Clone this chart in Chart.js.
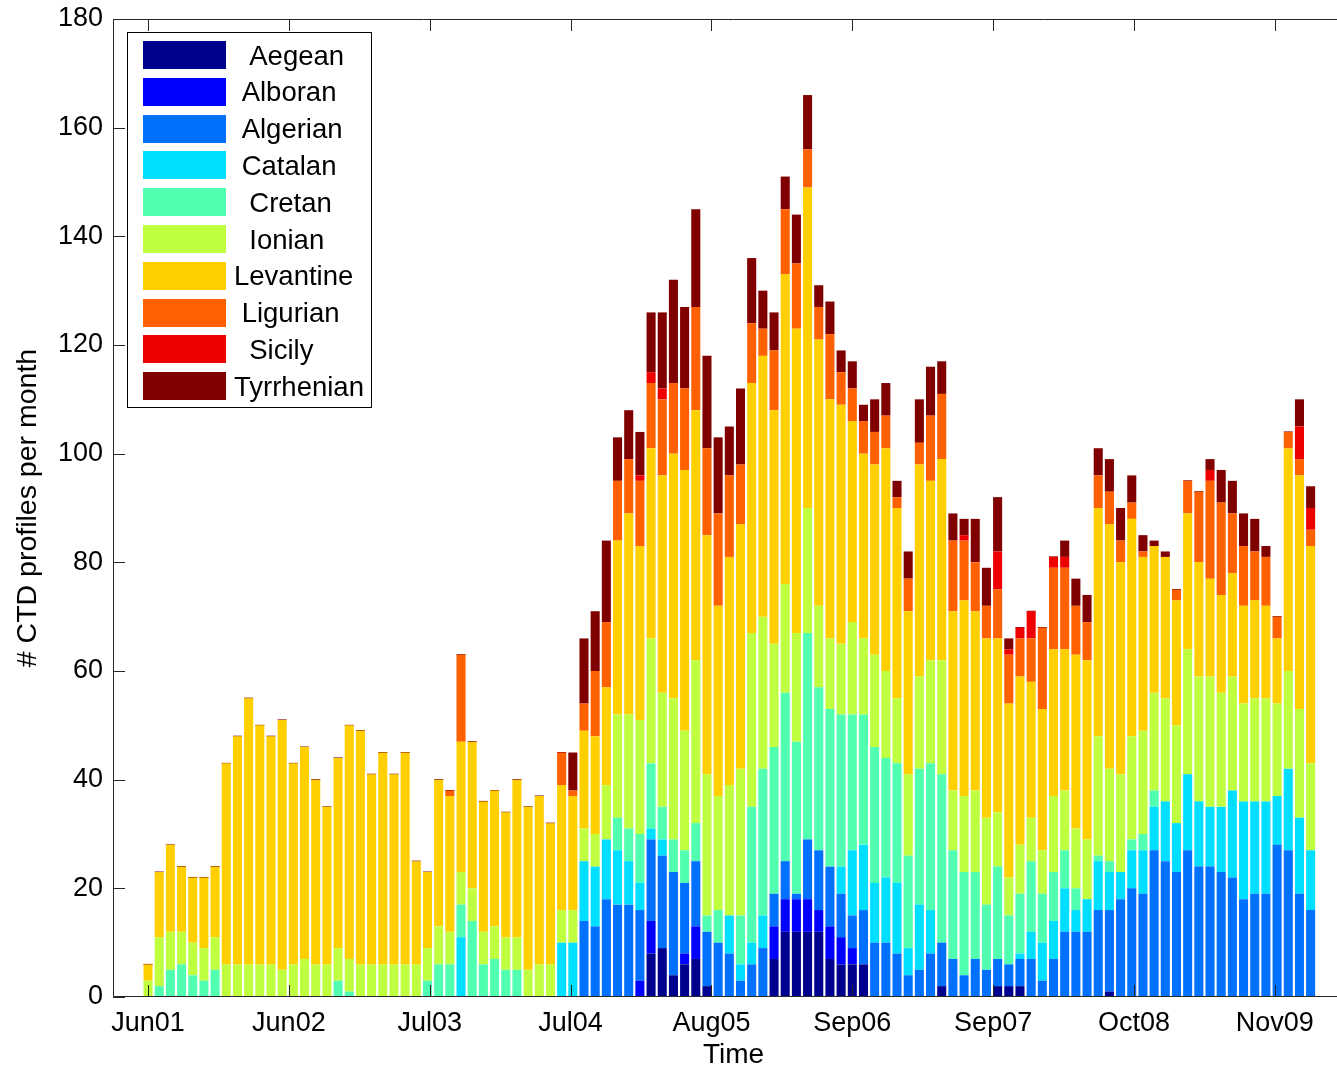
<!DOCTYPE html>
<html>
<head>
<meta charset="utf-8">
<script src="https://cdn.jsdelivr.net/npm/chart.js@4.4.1/dist/chart.umd.min.js"></script>
<style>
  html, body { margin: 0; padding: 0; background: #fff; overflow: hidden; }
  #wrap { width: 1337px; height: 1069px; overflow: hidden; }
</style>
</head>
<body>
<div id="wrap"><canvas id="chart" width="1356" height="1069"></canvas></div>
<script>
// regions, bottom to top of every stack
const regions = ['Aegean', 'Alboran', 'Algerian', 'Catalan', 'Cretan', 'Ionian', 'Levantine', 'Ligurian', 'Sicily', 'Tyrrhenian'];
const legendLabels = ['  Aegean', ' Alboran', ' Algerian', ' Catalan', '  Cretan', '  Ionian', 'Levantine', ' Ligurian', '  Sicily', 'Tyrrhenian'];
// jet(64) sampled every 7th entry
const regionColors = ['#00008F', '#0000FF', '#0070FF', '#00DFFF', '#50FFAF', '#BFFF40', '#FFCF00', '#FF6000', '#EF0000', '#800000'];

// monthly CTD profile counts, Jun 2001 .. Feb 2010 (105 months)
const aegean = [
  0,0,0,0,0,0,0,0,0,0,  0,0,0,0,0,0,0,0,0,0,  0,0,0,0,0,0,0,0,0,0,  0,0,0,0,0,0,0,0,0,0,
  0,0,0,0,0,8,9,4,6,7,  2,0,0,0,0,0,7,12,12,12,  12,7,6,6,6,0,0,0,0,0,  0,2,0,0,0,0,2,2,2,0,
  0,0,0,0,0,0,1,0,0,0,  0,0,0,0,0,0,0,0,0,0,  0,0,0,0,0];
const alboran = [
  0,0,0,0,0,0,0,0,0,0,  0,0,0,0,0,0,0,0,0,0,  0,0,0,0,0,0,0,0,0,0,  0,0,0,0,0,0,0,0,0,0,
  0,0,0,0,3,6,0,0,2,6,  0,0,0,0,0,0,6,6,6,6,  4,6,5,3,0,0,0,0,0,0,  0,0,0,0,0,0,0,0,0,0,
  0,0,0,0,0,0,0,0,0,0,  0,0,0,0,0,0,0,0,0,0,  0,0,0,0,0];
const algerian = [
  0,0,0,0,0,0,0,0,0,0,  0,0,0,0,0,0,0,0,0,0,  0,0,0,0,0,0,0,0,0,0,  0,0,0,0,0,0,0,0,0,14,
  13,18,17,17,13,15,17,19,13,12,  10,10,8,3,6,9,6,7,1,11,  11,11,8,6,10,10,10,8,4,5,  8,8,7,4,7,5,5,4,5,7,
  3,7,12,12,12,16,15,18,20,19,  27,25,23,27,24,24,23,22,18,19,  19,28,27,19,16];
const catalan = [
  0,0,0,0,0,0,0,0,0,0,  0,0,0,0,0,0,0,0,0,0,  0,0,0,0,0,0,0,0,11,0,  0,0,0,0,0,0,0,10,10,11,
  11,11,10,8,5,2,3,0,0,0,  0,0,7,3,4,6,0,0,0,0,  0,0,5,12,12,11,12,13,5,12,  8,0,0,0,0,0,0,0,1,5,
  7,7,8,4,6,9,7,5,7,8,  8,11,9,14,12,11,12,16,18,17,  17,9,15,14,11];
const cretan = [
  0,2,5,6,4,3,5,0,0,0,  0,0,0,0,0,0,0,3,1,0,  0,0,0,0,0,3,6,6,6,14,  6,7,5,5,0,0,0,0,0,0,
  0,0,6,6,9,12,6,6,6,7,  3,6,0,9,25,27,27,31,28,38,  30,29,28,25,24,25,22,22,17,25,  27,31,20,19,16,12,17,9,11,13,
  9,9,7,4,0,1,2,0,2,3,  3,0,0,0,0,0,0,0,0,0,  0,0,0,0,0];
const ionian = [
  3,9,7,6,6,6,6,6,6,6,  6,6,5,6,7,6,6,6,6,6,  6,6,6,6,6,6,7,6,6,6,  6,6,6,6,5,6,6,6,6,6,
  6,10,19,21,21,23,21,26,22,30,  26,21,24,27,32,28,19,20,20,23,  15,13,13,17,14,17,16,12,15,17,  19,21,11,14,15,16,10,7,9,8,
  8,14,11,11,11,22,17,18,19,19,  18,19,18,23,23,24,21,21,18,19,  19,17,18,20,16];
const levantine = [
  3,12,16,12,12,13,13,37,42,49,  44,42,46,37,39,34,29,35,43,43,  35,39,35,39,19,14,27,25,24,27,  24,25,23,29,30,31,26,23,21,18,
  18,18,32,37,32,35,40,45,48,46,  44,35,42,45,46,48,43,57,56,59,  49,44,44,37,34,35,41,35,30,39,  33,37,33,36,33,33,32,32,31,25,
  26,27,26,32,33,42,45,39,40,32,  27,26,23,25,21,18,18,19,18,18,  17,12,41,43,40];
const ligurian = [
  0,0,0,0,0,0,0,0,0,0,  0,0,0,0,0,0,0,0,0,0,  0,0,0,0,0,0,0,1,16,0,  0,0,0,0,0,0,0,6,1,5,
  12,12,11,10,12,12,14,13,15,19,  16,17,15,11,11,5,11,12,12,7,  6,12,6,6,6,6,6,2,6,4,  12,12,13,11,9,6,9,9,7,8,
  15,15,15,9,7,6,6,4,3,1,  0,0,2,6,13,18,17,11,11,9,  9,4,3,3,3];
const sicily = [
  0,0,0,0,0,0,0,0,0,0,  0,0,0,0,0,0,0,0,0,0,  0,0,0,0,0,0,0,0,0,0,  0,0,0,0,0,0,0,0,0,0,
  0,0,0,0,1,2,2,0,0,0,  0,0,0,0,0,0,0,0,0,0,  0,0,0,0,0,0,0,0,0,0,  0,0,0,1,0,0,7,1,2,5,
  0,2,2,0,0,0,0,0,0,0,  0,0,0,0,0,2,0,0,0,0,  0,0,0,6,4];
const tyrrhenian = [
  0,0,0,0,0,0,0,0,0,0,  0,0,0,0,0,0,0,0,0,0,  0,0,0,0,0,0,0,0,0,0,  0,0,0,0,0,0,0,0,7,12,
  11,15,8,9,8,11,14,19,15,18,  17,14,9,14,12,7,7,6,9,10,  4,6,4,5,3,6,6,3,5,8,  9,6,5,3,8,7,10,2,0,0,
  0,0,3,5,5,5,6,6,5,3,  1,1,0,0,0,2,6,6,6,6,  2,0,0,5,4];

const seriesValues = [aegean, alboran, algerian, catalan, cretan, ionian, levantine, ligurian, sicily, tyrrhenian];

// x ticks, in months since Jun01
const tickPositions = [0, 12.6, 25.2, 37.8, 50.4, 63, 75.6, 88.2, 100.8];
const tickLabels = ['Jun01', 'Jun02', 'Jul03', 'Jul04', 'Aug05', 'Sep06', 'Sep07', 'Oct08', 'Nov09'];
const yTicks = [0, 20, 40, 60, 80, 100, 120, 140, 160, 180];

Chart.defaults.font.family = '"Liberation Sans", Arial, sans-serif';
Chart.defaults.color = '#000';

// MATLAB style box with inward ticks
const axesBox = {
  id: 'axesBox',
  afterDatasetsDraw(chart) {
    const {ctx, chartArea: a, scales: {x, y}} = chart;
    const len = 12;
    ctx.save();
    ctx.strokeStyle = '#262626';
    ctx.lineWidth = 1;
    ctx.beginPath();
    ctx.rect(a.left + 0.5, a.top + 0.5, a.right - a.left - 1, a.bottom - a.top - 1);
    tickPositions.forEach(v => {
      const px = Math.round(x.getPixelForValue(v)) + 0.5;
      ctx.moveTo(px, a.bottom); ctx.lineTo(px, a.bottom - len);
      ctx.moveTo(px, a.top); ctx.lineTo(px, a.top + len);
    });
    yTicks.forEach(v => {
      const py = Math.round(y.getPixelForValue(v)) + 0.5;
      ctx.moveTo(a.left, py); ctx.lineTo(a.left + len, py);
      ctx.moveTo(a.right, py); ctx.lineTo(a.right - len, py);
    });
    ctx.stroke();
    ctx.restore();
  }
};

// legend box inside the plot, top left
const insideLegend = {
  id: 'insideLegend',
  afterDraw(chart) {
    const {ctx} = chart;
    const box = {left: 127, top: 32, right: 371, bottom: 407};
    ctx.save();
    ctx.fillStyle = '#fff';
    ctx.fillRect(box.left, box.top, box.right - box.left, box.bottom - box.top);
    ctx.strokeStyle = '#000';
    ctx.lineWidth = 1;
    ctx.strokeRect(box.left + 0.5, box.top + 0.5, box.right - box.left, box.bottom - box.top);
    ctx.font = '27.5px "Liberation Sans", Arial, sans-serif';
    ctx.textBaseline = 'middle';
    ctx.textAlign = 'left';
    chart.data.datasets.forEach((ds, i) => {
      const cy = 55 + i * 36.8;
      ctx.fillStyle = ds.backgroundColor;
      ctx.fillRect(143, Math.round(cy - 14), 83, 28);
      ctx.fillStyle = '#000';
      ctx.fillText(legendLabels[i], 234, cy + 2);
    });
    ctx.restore();
  }
};

new Chart(document.getElementById('chart'), {
  type: 'bar',
  data: {
    datasets: regions.map((name, i) => ({
      label: name,
      data: seriesValues[i].map((v, k) => ({x: k, y: v})),
      backgroundColor: regionColors[i],
      borderWidth: 0,
      barPercentage: 0.81,
      categoryPercentage: 1,
      minBarLength: name === 'Tyrrhenian' ? 1 : 0
    }))
  },
  options: {
    responsive: false,
    animation: false,
    layout: {padding: {top: 19, right: 2, left: 0, bottom: 0}},
    plugins: {legend: {display: false}, tooltip: {enabled: false}},
    scales: {
      x: {
        type: 'linear',
        stacked: true,
        offset: false,
        min: -3.133,
        max: 107.88,
        afterBuildTicks: s => { s.ticks = tickPositions.map(v => ({value: v})); },
        afterFit: s => { s.height = 72; s.paddingLeft = 0; s.paddingRight = 0; },
        ticks: {
          autoSkip: false,
          maxRotation: 0,
          padding: 10,
          font: {size: 27},
          callback: (v, i) => tickLabels[i]
        },
        grid: {display: true, drawOnChartArea: false, drawTicks: false, offset: false},
        border: {display: false},
        title: {display: true, text: 'Time', font: {size: 28, lineHeight: 1}, padding: {top: 0, bottom: 0}}
      },
      y: {
        stacked: true,
        min: 0,
        max: 180,
        afterBuildTicks: s => { s.ticks = yTicks.map(v => ({value: v})); },
        afterFit: s => { s.width = 113; s.paddingTop = 0; s.paddingBottom = 0; },
        ticks: {padding: 10, font: {size: 27}},
        grid: {display: true, drawOnChartArea: false, drawTicks: false},
        border: {display: false},
        title: {display: true, text: '# CTD profiles per month', font: {size: 28.5, lineHeight: 1}, padding: {top: 14, bottom: 0}}
      }
    }
  },
  plugins: [axesBox, insideLegend]
});
</script>
</body>
</html>
